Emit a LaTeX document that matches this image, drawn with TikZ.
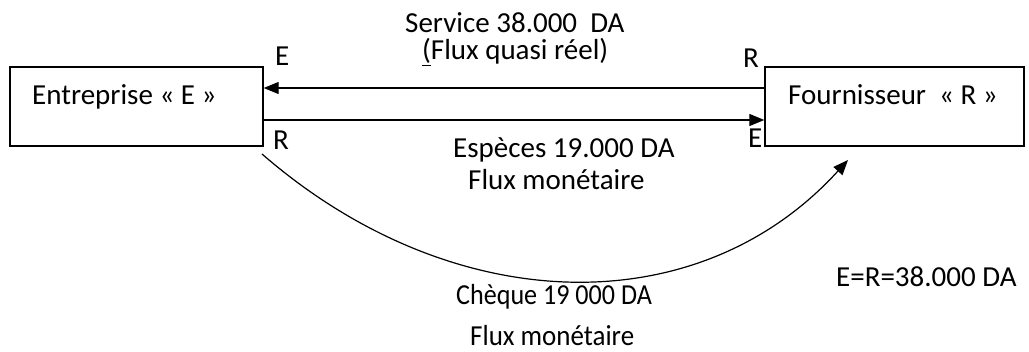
\documentclass[tikz,border=0pt]{standalone}
\usepackage{fontspec}
\setmainfont{Carlito}
\usetikzlibrary{arrows.meta}
\begin{document}
\begin{tikzpicture}[x=1pt,y=-1pt,
  txt/.style={anchor=base west,inner sep=0pt,font=\fontsize{29}{35}\selectfont},
  box/.style={draw,line width=1.4pt,inner sep=0pt},
  flow/.style={line width=1.3pt,-{Triangle[length=15pt,width=12pt]}},
  curveflow/.style={line width=1.2pt,-{Triangle[length=15pt,width=12pt]}}]
\useasboundingbox (0,0) rectangle (1029,352);
% boxes
\node[box,minimum width=253pt,minimum height=79pt] (E) at (136.5,106.5) {};
\node[box,minimum width=259pt,minimum height=79pt] (R) at (894.5,106.5) {};
\node[txt] (tE) at (32,105) {Entreprise « E »};
\node[txt] (tR) at (788,105) {Fournisseur\ \ « R »};
% straight flows
\draw[flow] ([yshift=18.5pt]R.west) -- ([yshift=18.5pt]E.east);
\draw[flow] ([yshift=-13.5pt]E.east) -- ([yshift=-13.5pt]R.west);
% labels on flows
\node[txt] (l1) at (405,33) {Service 38.000\ \ DA};
\node[txt] (l2) at (422,60) {\underline{(}Flux quasi réel)};
\node[txt] (l3) at (453,158) {Espèces 19.000 DA};
\node[txt] (l4) at (468,190) {Flux monétaire};
\node[txt] (eTL) at (275,66) {E};
\node[txt] (rTR) at (743,68) {R};
\node[txt] (rBL) at (273,150) {R};
\node[txt] (eBR) at (748,148) {E};
% curved flow
\coordinate (cs) at (262,154);
\coordinate (ce) at (848,160);
\draw[curveflow] (cs) .. controls (452,319) and (698,325) .. (ce);
\node[txt] (l5) at (456,305) {\scalebox{0.9}[1]{Chèque 19 000 DA}};
\node[txt] (l6) at (470,346) {\scalebox{0.93}[1]{Flux monétaire}};
\node[txt] (eq) at (836,287) {E=R=38.000 DA};
\end{tikzpicture}
\end{document}
